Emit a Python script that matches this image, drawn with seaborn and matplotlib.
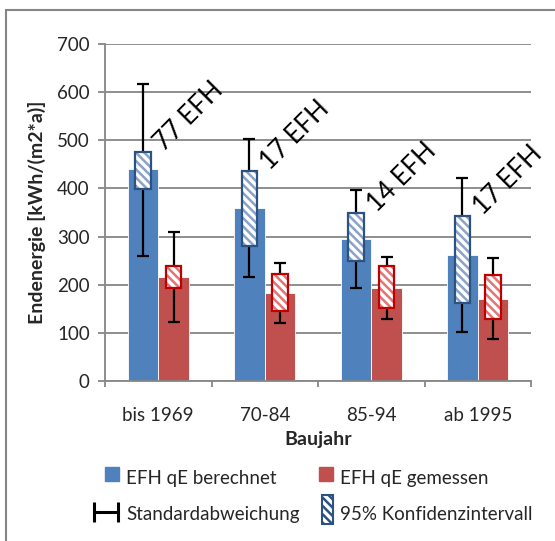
import numpy as np
import pandas as pd
import matplotlib
matplotlib.use("Agg")
import matplotlib.pyplot as plt
import seaborn as sns
from matplotlib.patches import Patch, Rectangle
from matplotlib.legend_handler import HandlerErrorbar, HandlerPatch
from matplotlib.container import ErrorbarContainer

# values
categories = ["bis 1969", "70-84", "85-94", "ab 1995"]
series = ["EFH qE berechnet", "EFH qE gemessen"]
berechnet = [440, 360, 295, 261]
gemessen = [216, 183, 193, 170]
# standard deviation (low / high end of whisker)
sd_ber_low = [260, 215, 194, 102]
sd_ber_high = [617, 503, 396, 421]
sd_gem_low = [123, 120, 129, 87]
sd_gem_high = [310, 246, 258, 255]
# 95% confidence interval boxes
ci_ber_low = [398, 280, 249, 163]
ci_ber_high = [476, 436, 348, 342]
ci_gem_low = [194, 145, 152, 129]
ci_gem_high = [238, 222, 239, 220]
n_efh = [77, 17, 14, 17]

blue = "#4F81BD"
red = "#C0504D"
blue_edge = "#2C5282"
blue_hatch = "#8AA3C6"
red_edge = "#C00000"
red_hatch = "#E27575"
grid_c = "#868686"

sns.set_theme(style="white")
plt.rcParams["font.family"] = ["Lato", "DejaVu Sans"]
plt.rcParams["hatch.linewidth"] = 1.8

fig = plt.figure(figsize=(5.55, 5.41), dpi=100)
ax = fig.add_axes([105 / 555, 1 - 381 / 541, 426 / 555, 337 / 541])

df = pd.DataFrame({
    "Baujahr": categories * 2,
    "Endenergie": berechnet + gemessen,
    "Serie": [series[0]] * 4 + [series[1]] * 4,
})

bar_w = 0.576
sns.barplot(data=df, x="Baujahr", y="Endenergie", hue="Serie", order=categories,
            hue_order=series, palette=[blue, red], saturation=1, width=bar_w,
            gap=0, legend=False, ax=ax, zorder=2, edgecolor="white", linewidth=0.6)

x = np.arange(len(categories))
off = bar_w / 4
ci_w = 0.147
hatch = "\\\\\\\\"

for xs, vals, lo, hi, clo, chi, ec, hc in [
    (x - off, berechnet, sd_ber_low, sd_ber_high, ci_ber_low, ci_ber_high, blue_edge, blue_hatch),
    (x + off, gemessen, sd_gem_low, sd_gem_high, ci_gem_low, ci_gem_high, red_edge, red_hatch),
]:
    vals = np.array(vals)
    yerr = [vals - np.array(lo), np.array(hi) - vals]
    ax.errorbar(xs, vals, yerr=yerr, fmt="none", ecolor="black", elinewidth=1.6,
                capsize=4.5, capthick=1.6, zorder=3)
    h = np.array(chi) - np.array(clo)
    ax.bar(xs, h, bottom=clo, width=ci_w, facecolor="white", edgecolor=hc,
           hatch=hatch, linewidth=0, zorder=4)
    ax.bar(xs, h, bottom=clo, width=ci_w, facecolor="none", edgecolor=ec,
           linewidth=1.6, zorder=5)

for i, n in enumerate(n_efh):
    ax.text(x[i] + 0.05, ci_ber_high[i], f"{n} EFH", rotation=45, rotation_mode="anchor",
            ha="left", va="baseline", fontsize=18.5, color="black", zorder=6)

ax.set_ylim(0, 700)
ax.set_xlim(-0.5, 3.5)
ax.set_yticks(range(0, 701, 100))
ax.yaxis.grid(True, color=grid_c, linewidth=1.3)
ax.set_axisbelow(True)
for s in ["top", "right"]:
    ax.spines[s].set_visible(False)
for s in ["left", "bottom"]:
    ax.spines[s].set_color(grid_c)
    ax.spines[s].set_linewidth(1.3)
ax.tick_params(axis="y", left=True, length=5, width=1.3, color=grid_c, labelsize=13.5, pad=6)
ax.tick_params(axis="x", bottom=False, labelsize=13.5, pad=13)
ax.set_xticks(np.arange(-0.5, 4, 1), minor=True)
ax.tick_params(axis="x", which="minor", bottom=True, length=4, width=1.3, color=grid_c)
ax.set_xlabel("Baujahr", fontsize=14, fontweight="bold", labelpad=5)
ax.set_ylabel("Endenergie [kWh/(m2*a)]", fontsize=14, fontweight="bold", labelpad=8)

# outer chart frame (only left and top edge visible in the crop)
fig.add_artist(Rectangle((6 / 555, -0.1), 1.2, 1.1 - 10 / 541, transform=fig.transFigure,
                         fill=False, edgecolor=grid_c, linewidth=1.5))

# legend handles
err_h = ax.errorbar([np.nan], [np.nan], xerr=[1], fmt="none", ecolor="black",
                    elinewidth=2.2, capsize=7, capthick=2.2)
ci_h = Patch(facecolor="white", edgecolor=blue_edge, hatch=hatch, linewidth=1.5)


def square(legend, orig_handle, xdescent, ydescent, width, height, fontsize):
    s = height * 0.8
    return Rectangle((xdescent + width - s, ydescent + (height - s) / 2), s, s)


def tall_rect(legend, orig_handle, xdescent, ydescent, width, height, fontsize):
    w = height * 0.65
    return Rectangle((xdescent + width - w, ydescent - height * 0.35), w, height * 1.7)


handles = [Patch(color=blue), err_h, Patch(color=red), ci_h]
labels = [series[0], "Standardabweichung", series[1], "95% Konfidenzintervall"]
fig.legend(handles, labels, ncol=2, loc="upper left", bbox_to_anchor=(84 / 555, 1 - 460 / 541),
           frameon=False, fontsize=13.5, handlelength=1.35, handleheight=1.0,
           handletextpad=0.4, columnspacing=0.4, labelspacing=0.95, borderpad=0,
           handler_map={ErrorbarContainer: HandlerErrorbar(xerr_size=0.62),
                        handles[0]: HandlerPatch(patch_func=square),
                        handles[2]: HandlerPatch(patch_func=square),
                        ci_h: HandlerPatch(patch_func=tall_rect)})

fig.savefig("out.png", dpi=100)
